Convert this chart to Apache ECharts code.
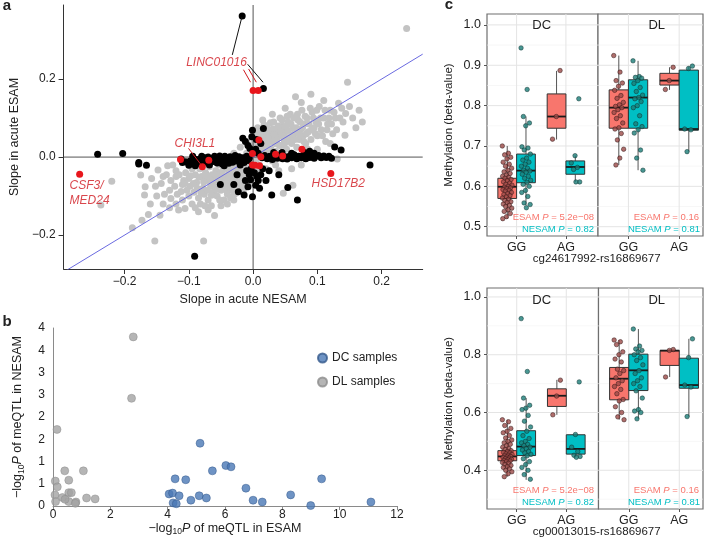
<!DOCTYPE html>
<html><head><meta charset="utf-8">
<script src="https://cdn.jsdelivr.net/npm/echarts@6/dist/echarts.min.js"></script>
<style>html,body{margin:0;padding:0;background:#fff}#c{width:711px;height:544px}</style>
</head><body><div id="c"></div>
<script>
// ---------- Panel a data ----------
const aTicksX = [-0.2, -0.1, 0.0, 0.1, 0.2];
const aTicksY = [-0.2, 0.0, 0.2];
const aGray = [
[-0.220,-0.062],[-0.237,-0.123],[-0.188,-0.181],[-0.163,-0.147],[-0.145,-0.149],[-0.153,-0.215],[-0.077,-0.215],[-0.173,-0.162],[-0.169,-0.097],[-0.175,-0.046],[-0.168,-0.076],[-0.143,-0.068],[-0.133,-0.022],[-0.148,-0.033],[-0.128,-0.106],[-0.116,-0.136],[-0.106,-0.132],[-0.125,-0.020],[-0.120,-0.050],[-0.130,-0.085],[-0.140,-0.050],[-0.110,-0.070],[-0.100,-0.100],[-0.118,-0.095],[-0.095,-0.120],[-0.085,-0.140],[-0.070,-0.135],[-0.060,-0.150],[-0.120,-0.035],
[-0.105,-0.040],[-0.100,-0.055],[-0.098,-0.075],[-0.095,-0.030],[-0.092,-0.090],[-0.090,-0.045],[-0.088,-0.065],[-0.085,-0.105],[-0.083,-0.030],[-0.080,-0.050],[-0.078,-0.080],[-0.076,-0.095],[-0.074,-0.040],[-0.072,-0.060],[-0.070,-0.110],[-0.068,-0.025],[-0.066,-0.075],[-0.064,-0.045],[-0.062,-0.090],[-0.060,-0.055],[-0.058,-0.035],[-0.056,-0.100],[-0.055,-0.070],[-0.053,-0.020],[-0.051,-0.045],[-0.050,-0.085],[-0.048,-0.060],[-0.046,-0.030],[-0.044,-0.075],[-0.042,-0.050],[-0.040,-0.095],[-0.038,-0.040],[-0.036,-0.065],[-0.034,-0.025],[-0.032,-0.085],[-0.030,-0.050],[-0.028,-0.035],[-0.026,-0.070],[-0.024,-0.015],[-0.022,-0.055],[-0.020,-0.040],[-0.018,-0.075],[-0.016,-0.025],[-0.014,-0.045],[-0.012,-0.015],[-0.010,-0.060],[-0.008,-0.030],[-0.006,-0.020],[-0.004,-0.050],[-0.100,-0.015],[-0.090,-0.020],[-0.082,-0.120],[-0.065,-0.125],[-0.045,-0.110],[-0.035,-0.105],[-0.025,-0.090],[-0.015,-0.085],[-0.050,-0.125],[-0.110,-0.110],
[0.000,0.020],[0.002,0.035],[0.004,-0.010],[0.006,0.060],[0.008,0.025],[0.010,0.045],[0.012,0.005],[0.014,0.070],[0.016,0.030],[0.018,0.055],[0.020,0.015],[0.022,0.080],[0.024,0.040],[0.026,0.065],[0.028,0.020],[0.030,0.050],[0.032,0.090],[0.034,0.035],[0.036,0.070],[0.038,0.010],[0.040,0.055],[0.042,0.100],[0.044,0.030],[0.046,0.080],[0.048,0.045],[0.050,0.065],[0.052,0.020],[0.054,0.090],[0.056,0.050],[0.058,0.110],[0.060,0.035],[0.062,0.075],[0.064,0.060],[0.066,0.155],[0.068,0.025],[0.070,0.095],[0.072,0.045],[0.074,0.070],[0.076,0.120],[0.078,0.055],[0.080,0.085],[0.082,0.035],[0.084,0.100],[0.086,0.065],[0.090,0.161],[0.090,0.045],[0.092,0.115],[0.095,0.075],[0.098,0.090],[0.100,0.055],[0.103,0.130],[0.106,0.070],[0.110,0.100],[0.113,0.040],[0.116,0.085],[0.120,0.120],[0.124,0.060],[0.128,0.100],[0.133,0.138],[0.143,0.056],[0.144,0.112],[0.147,0.192],[0.239,0.330],[0.131,-0.005],[0.062,-0.072],[0.047,-0.093],[0.140,0.090],[0.110,0.145],[0.075,0.140],[0.050,0.125],[0.030,0.110],[0.015,0.095],[0.100,0.020],[0.120,0.035],[0.085,0.020],[0.155,0.100],[0.160,0.075],[0.020,-0.030],[0.035,-0.020],[-0.002,0.010],
[-0.010,0.010],[0.000,-0.010],[0.005,-0.040],[-0.005,0.030],[0.010,-0.020],[0.015,0.010],
[-0.108,-0.060],[-0.103,-0.085],[-0.097,-0.048],[-0.093,-0.068],[-0.087,-0.080],[-0.084,-0.052],[-0.081,-0.092],[-0.077,-0.064],[-0.073,-0.048],[-0.071,-0.085],[-0.067,-0.058],[-0.065,-0.098],[-0.061,-0.070],[-0.059,-0.045],[-0.057,-0.083],[-0.054,-0.058],[-0.052,-0.110],[-0.049,-0.038],[-0.047,-0.072],[-0.043,-0.062],[-0.041,-0.085],[-0.039,-0.028],[-0.037,-0.052],[-0.035,-0.078],[-0.033,-0.040],[-0.031,-0.062],[-0.029,-0.095],[-0.027,-0.048],[-0.025,-0.028],[-0.023,-0.065],[-0.021,-0.030],[-0.019,-0.050],[-0.017,-0.012],[-0.015,-0.062],[-0.013,-0.035],[-0.011,-0.072],[-0.009,-0.045],[-0.007,-0.010],[-0.005,-0.065],[-0.003,-0.035],[-0.001,-0.055],
[0.001,0.045],[0.003,0.005],[0.005,0.028],[0.007,0.075],[0.009,0.038],[0.011,0.060],[0.013,0.018],[0.015,0.048],[0.017,0.082],[0.019,0.035],[0.021,0.062],[0.023,0.025],[0.025,0.050],[0.027,0.088],[0.029,0.040],[0.031,0.072],[0.033,0.058],[0.035,0.015],[0.037,0.045],[0.039,0.080],[0.041,0.030],[0.043,0.065],[0.045,0.095],[0.047,0.055],[0.049,0.035],[0.051,0.078],[0.053,0.105],[0.055,0.068],[0.057,0.040],[0.059,0.085],[0.061,0.055],[0.063,0.100],[0.065,0.045],[0.067,0.075],[0.069,0.110],[0.071,0.060],[0.073,0.090],[0.077,0.075],[0.079,0.040],[0.081,0.105],[0.083,0.060],[0.087,0.085],[0.089,0.125],[0.091,0.070],[0.094,0.100],[0.097,0.060],[0.099,0.120],[0.102,0.085],[0.105,0.100],[0.108,0.055],[0.112,0.120],[0.115,0.070],[0.118,0.100],[0.122,0.085],[0.126,0.115],[0.130,0.070],[0.135,0.100],[0.138,0.125],[0.150,0.130],[0.165,0.120],[0.170,0.090],
[0.010,-0.030],[0.030,-0.010],[0.050,0.000],[0.040,-0.035],[0.060,-0.030],[0.075,-0.020],[-0.020,0.025],[-0.010,0.040],[-0.030,0.010],
[-0.150,-0.100],[-0.140,-0.120],[-0.130,-0.130],[-0.160,-0.120],[-0.120,-0.120],[-0.090,-0.130],[-0.075,-0.125],[-0.040,-0.120],[-0.030,-0.110],
[-0.135,-0.045],[-0.128,-0.060],[-0.122,-0.075],[-0.115,-0.045],[-0.112,-0.088],[-0.106,-0.068],[-0.152,-0.075],[-0.158,-0.055],[-0.138,-0.095]
];
const aBlack = [
[-0.112,-0.005],[-0.110,-0.014],[-0.105,-0.012],[-0.098,-0.010],[-0.094,0.002],[-0.092,-0.012],[-0.088,-0.006],[-0.085,-0.016],[-0.082,-0.004],[-0.080,0.002],[-0.078,-0.010],[-0.075,-0.002],[-0.072,-0.014],[-0.070,0.000],[-0.066,-0.006],[-0.064,-0.012],[-0.062,-0.003],[-0.060,0.002],[-0.058,-0.008],[-0.056,-0.015],[-0.054,-0.004],[-0.052,0.003],[-0.050,-0.010],[-0.048,-0.018],[-0.046,-0.005],[-0.044,0.002],[-0.042,-0.012],[-0.040,-0.006],[-0.038,-0.016],[-0.036,0.001],[-0.034,-0.008],[-0.032,-0.013],[-0.030,-0.003],[-0.028,0.004],[-0.026,-0.010],[-0.024,-0.005],[-0.022,0.001],[-0.020,-0.012],[-0.018,-0.006],[-0.016,-0.002],[-0.014,-0.014],[-0.012,-0.006],[-0.010,0.002],[-0.008,-0.009],[-0.006,-0.003],
[-0.100,-0.021],[-0.090,-0.022],[-0.068,-0.020],[-0.045,-0.022],[-0.020,-0.020],
[-0.016,0.048],[-0.012,0.040],[-0.008,0.030],[-0.002,0.052],[-0.001,0.069],[0.016,0.073],[0.005,0.045],[0.012,0.035],[-0.005,0.022],[0.004,0.020],[0.008,0.010],[-0.003,-0.030],[0.002,-0.040],[-0.006,-0.045],[0.006,-0.050],[-0.004,-0.058],[0.008,-0.060],[-0.008,-0.076],[0.004,-0.072],[0.010,-0.080],[-0.001,-0.102],[-0.014,-0.097],[-0.023,-0.089],[-0.012,-0.060],[0.012,-0.045],[0.015,-0.030],[-0.010,-0.035],
[-0.051,-0.070],[0.029,-0.097],[0.054,-0.078],[0.069,-0.110],[0.040,-0.045],[0.025,-0.035],[0.020,-0.060],[-0.030,-0.070],[-0.025,-0.045],
[0.014,-0.002],[0.018,0.004],[0.022,-0.004],[0.026,0.002],[0.030,-0.006],[0.034,0.001],[0.038,-0.003],[0.042,0.005],[0.046,-0.004],[0.050,0.001],[0.053,-0.005],[0.057,0.003],[0.060,-0.002],[0.064,0.006],[0.068,-0.004],[0.071,0.002],[0.075,-0.002],[0.078,0.005],[0.082,-0.004],[0.085,0.003],[0.088,-0.001],[0.092,0.004],[0.095,-0.003],[0.098,0.002],[0.102,0.004],[0.106,-0.002],[0.110,0.003],[0.114,-0.001],[0.118,0.002],[0.122,-0.003],[0.127,0.026],[0.137,0.018],[0.182,-0.020],[0.032,0.012],[0.045,0.012],[0.060,0.010],[0.080,0.012],[0.088,0.015],[0.095,0.010],
[-0.242,0.007],[-0.203,0.009],[-0.178,-0.014],[-0.178,-0.018],[-0.166,-0.021],[-0.091,-0.254],[-0.017,0.362],[0.016,0.176]
];
const aRed = [[-0.270,-0.044],[-0.113,-0.006],[-0.079,-0.025],[-0.069,-0.008],[0.000,0.171],[0.008,0.171],[0.009,0.044],[-0.001,0.009],[-0.001,-0.020],[0.003,-0.021],[0.010,-0.022],[0.012,0.001],[0.035,0.007],[0.046,0.003],[0.076,0.020],[0.121,-0.042]];
const aGeneNames = ['LINC01016','CHI3L1','CSF3/','MED24','HSD17B2'];

// ---------- Panel b data ----------
const bTicksX = [0, 2, 4, 6, 8, 10, 12];
const bDC = [[5.13,1.41],[6.03,0.91],[6.21,0.88],[5.56,0.79],[4.26,0.61],[4.63,0.59],[9.37,0.61],[6.73,0.40],[4.05,0.27],[4.17,0.29],[4.40,0.23],[4.19,0.07],[4.30,0.05],[4.81,0.13],[5.10,0.23],[5.35,0.18],[6.98,0.13],[7.30,0.09],[8.29,0.25],[8.99,0.01],[11.09,0.09]];
const bDL = [[2.80,3.80],[2.74,2.42],[0.14,1.72],[0.41,0.79],[1.06,0.79],[0.55,0.58],[0.08,0.56],[0.15,0.43],[0.07,0.25],[0.55,0.30],[0.64,0.30],[0.33,0.19],[0.09,0.10],[0.55,0.10],[0.80,0.09],[0.78,0.06],[1.17,0.18],[1.47,0.16],[0.42,0.15]];

// ---------- Panel c data ----------
const cCats = ['GG','AG'];
const cTopMajor = [0.5,0.6,0.7,0.8,0.9,1.0];
const cTopMinor = [0.55,0.65,0.75,0.85,0.95];
const cBotMajor = [0.4,0.6,0.8,1.0];
const cBotMinor = [0.3,0.5,0.7,0.9];
// box stats per genotype [GG, AG]: [low, q1, median, q3, high]
const topDC_ESAM_box = [[0.520,0.570,0.599,0.620,0.700],[0.716,0.744,0.773,0.829,0.886]];
const topDC_NESAM_box = [[0.553,0.609,0.639,0.680,0.773],[0.611,0.630,0.648,0.663,0.676]];
const topDL_ESAM_box = [[0.653,0.744,0.795,0.839,0.924],[0.839,0.851,0.862,0.880,0.895]];
const topDL_NESAM_box = [[0.640,0.744,0.820,0.864,0.911],[0.686,0.739,0.742,0.888,0.897]];
const botDC_ESAM_box = [[0.378,0.433,0.448,0.468,0.575],[0.592,0.621,0.658,0.682,0.713]];
const botDC_NESAM_box = [[0.367,0.451,0.482,0.537,0.650],[0.445,0.456,0.474,0.523,0.523]];
const botDL_ESAM_box = [[0.575,0.644,0.717,0.756,0.851],[0.723,0.763,0.814,0.815,0.818]];
const botDL_NESAM_box = [[0.578,0.676,0.746,0.802,0.889],[0.586,0.684,0.695,0.788,0.855]];
// individual samples
const topDC_ESAM_GG = [0.700,0.682,0.678,0.672,0.668,0.660,0.655,0.650,0.645,0.640,0.636,0.632,0.628,0.625,0.622,0.620,0.617,0.614,0.611,0.608,0.605,0.603,0.600,0.598,0.596,0.594,0.592,0.590,0.588,0.585,0.582,0.580,0.577,0.574,0.571,0.568,0.565,0.562,0.560,0.556,0.553,0.550,0.546,0.542,0.538,0.533,0.525,0.520];
const topDC_ESAM_AG = [0.887,0.773,0.717];
const topDC_NESAM_GG = [0.943,0.840,0.773,0.757,0.750,0.698,0.695,0.690,0.680,0.670,0.665,0.660,0.655,0.650,0.645,0.640,0.638,0.635,0.630,0.625,0.620,0.615,0.610,0.605,0.600,0.590,0.585,0.575,0.559,0.555,0.547];
const topDC_NESAM_AG = [0.817,0.676,0.658,0.647,0.642,0.611,0.611];
const topDL_ESAM_GG = [0.924,0.883,0.862,0.856,0.848,0.838,0.825,0.818,0.808,0.802,0.798,0.795,0.790,0.783,0.775,0.768,0.757,0.745,0.742,0.731,0.715,0.692,0.670,0.653];
const topDL_ESAM_AG = [0.895,0.862,0.840];
const topDL_NESAM_GG = [0.911,0.872,0.870,0.868,0.862,0.855,0.845,0.835,0.826,0.820,0.817,0.810,0.800,0.795,0.775,0.755,0.748,0.740,0.732,0.690,0.670,0.640];
const topDL_NESAM_AG = [0.898,0.892,0.742,0.740,0.686];
const botDC_ESAM_GG = [0.575,0.568,0.555,0.545,0.535,0.530,0.520,0.512,0.505,0.500,0.495,0.490,0.485,0.480,0.475,0.472,0.468,0.465,0.462,0.460,0.457,0.455,0.452,0.450,0.448,0.446,0.444,0.442,0.440,0.438,0.436,0.434,0.432,0.430,0.427,0.424,0.420,0.417,0.413,0.410,0.405,0.400,0.395,0.388,0.378];
const botDC_ESAM_AG = [0.712,0.657,0.592];
const botDC_NESAM_GG = [0.925,0.742,0.650,0.625,0.615,0.610,0.590,0.570,0.550,0.535,0.520,0.510,0.500,0.495,0.490,0.485,0.480,0.475,0.470,0.465,0.460,0.455,0.450,0.440,0.430,0.420,0.410,0.400,0.385,0.369];
const botDC_NESAM_AG = [0.706,0.524,0.480,0.465,0.452,0.448,0.445];
const botDL_ESAM_GG = [0.851,0.845,0.835,0.810,0.800,0.785,0.775,0.750,0.745,0.735,0.720,0.710,0.700,0.690,0.680,0.665,0.645,0.640,0.620,0.600,0.585,0.575];
const botDL_ESAM_AG = [0.818,0.815,0.723];
const botDL_NESAM_GG = [0.889,0.830,0.820,0.815,0.810,0.800,0.790,0.780,0.765,0.745,0.735,0.720,0.710,0.700,0.690,0.675,0.650,0.610,0.605,0.600,0.578];
const botDL_NESAM_AG = [0.855,0.790,0.695,0.688,0.586];

// ---------- styling ----------
const FONT = '"Liberation Sans", Arial, Helvetica, sans-serif';
const RED = '#d0181f';
const ESAM_C = '#F8766D', NESAM_C = '#00BFC4';
const DODGE = 0.19, HALF = 0.19;
const fmt1 = v => (Math.abs(v) < 1e-9 ? '0.0' : v.toFixed(1).replace('-', '\u2212'));
const jit = i => (((i * 0.6180339887) % 1) - 0.5) * 0.2;

const series = [];
const grid = [];
const xAxis = [];
const yAxis = [];

// ---------- Panel a ----------
grid.push({left:48, top:5, width:374.7, height:264});
xAxis.push({gridIndex:0, type:'value', min:-0.295, max:0.264,
  axisLine:{show:true, onZero:false, lineStyle:{color:'#333', width:1}},
  axisTick:{show:true, customValues:aTicksX, length:5, lineStyle:{color:'#333'}},
  axisLabel:{customValues:aTicksX, formatter:fmt1, fontSize:12, color:'#222', fontFamily:FONT, margin:7},
  splitLine:{show:false},
  name:'Slope in acute NESAM', nameLocation:'middle', nameGap:24,
  nameTextStyle:{fontSize:12.5, color:'#222', fontFamily:FONT}});
yAxis.push({gridIndex:0, type:'value', min:-0.287, max:0.39,
  axisLine:{show:true, onZero:false, lineStyle:{color:'#333', width:1}},
  axisTick:{show:true, customValues:aTicksY, length:5, lineStyle:{color:'#333'}},
  axisLabel:{customValues:aTicksY, formatter:fmt1, fontSize:12, color:'#222', fontFamily:FONT, margin:8},
  splitLine:{show:false},
  name:'Slope in acute ESAM', nameLocation:'middle', nameGap:31,
  nameTextStyle:{fontSize:12.5, color:'#222', fontFamily:FONT}});

series.push({type:'scatter', xAxisIndex:0, yAxisIndex:0, data:aGray, symbolSize:7, itemStyle:{color:'#c3c3c3', opacity:1}, z:2, silent:true});
const refLines = [
  {d:[[0,-0.287],[0,0.39]], c:'#555', w:1},
  {d:[[-0.295,0],[0.264,0]], c:'#555', w:1},
  {d:[[-0.295,-0.295],[0.264,0.264]], c:'#6a6ae0', w:1}
];
refLines.forEach(r => series.push({type:'line', xAxisIndex:0, yAxisIndex:0, data:r.d, showSymbol:false, clip:true, lineStyle:{color:r.c, width:r.w}, z:3, silent:true}));
series.push({type:'scatter', xAxisIndex:0, yAxisIndex:0, data:aBlack, symbolSize:7, itemStyle:{color:'#000', opacity:1}, z:4, silent:true});
series.push({type:'scatter', xAxisIndex:0, yAxisIndex:0, data:aRed, symbolSize:7, itemStyle:{color:'#e8161c', opacity:1}, z:5, silent:true});
// label connectors
const connectors = [
  {d:[[-0.0175,0.359],[-0.0324,0.262]], c:'#111'},
  {d:[[-0.0085,0.238],[0.0154,0.192]], c:'#111'},
  {d:[[-0.0150,0.224],[-0.0040,0.192]], c:RED},
  {d:[[-0.0070,0.226],[0.0050,0.192]], c:RED},
  {d:[[-0.1006,0.0223],[-0.0806,-0.0205]], c:RED}
];
connectors.forEach(r => series.push({type:'line', xAxisIndex:0, yAxisIndex:0, data:r.d, showSymbol:false, lineStyle:{color:r.c, width:1}, z:6, silent:true}));
const geneLabelPos = [[-0.057,0.242,'center'],[-0.0906,0.0333,'center'],[-0.2857,-0.0726,'left'],[-0.2857,-0.111,'left'],[0.091,-0.068,'left']];
series.push({type:'scatter', xAxisIndex:0, yAxisIndex:0, symbolSize:0, z:7, silent:true,
  data: aGeneNames.map((n,i) => ({name:n, value:[geneLabelPos[i][0], geneLabelPos[i][1]],
    label:{show:true, position:[0,0], align:geneLabelPos[i][2], verticalAlign:'middle', formatter:'{b}',
      color:RED, fontStyle:'italic', fontSize:12, fontFamily:FONT}}))});

// ---------- Panel b ----------
grid.push({left:53, top:328, width:344, height:178});
const bRich = {s:{fontSize:8.5, padding:[7,0,0,0], fontFamily:FONT, color:'#222'}, i:{fontStyle:'italic', fontSize:12.5, fontFamily:FONT, color:'#222'}};
xAxis.push({gridIndex:1, type:'value', min:0, max:12, interval:2,
  axisLine:{show:true, onZero:false, lineStyle:{color:'#8a8a8a'}},
  axisTick:{show:true, length:4, lineStyle:{color:'#8a8a8a'}},
  axisLabel:{fontSize:12, color:'#222', fontFamily:FONT, margin:3},
  splitLine:{show:false},
  name:'\u2212log{s|10}{i|P} of meQTL in ESAM', nameLocation:'middle', nameGap:14,
  nameTextStyle:{fontSize:12.5, color:'#222', fontFamily:FONT, rich:bRich}});
yAxis.push({gridIndex:1, type:'value', min:0, max:4, interval:0.5,
  axisLine:{show:true, onZero:false, lineStyle:{color:'#8a8a8a'}},
  axisTick:{show:false},
  axisLabel:{fontSize:12, color:'#222', fontFamily:FONT, margin:8, formatter:v => String(Math.round(v))},
  splitLine:{show:false},
  name:'\u2212log{s|10}{i|P} of meQTL in NESAM', nameLocation:'middle', nameGap:27,
  nameTextStyle:{fontSize:12.5, color:'#222', fontFamily:FONT, rich:bRich}});
series.push({name:'DL samples', type:'scatter', xAxisIndex:1, yAxisIndex:1, data:bDL, symbolSize:8,
  itemStyle:{color:'#a3a3a3', borderColor:'#8c8c8c', borderWidth:0.6}, z:3});
series.push({name:'DC samples', type:'scatter', xAxisIndex:1, yAxisIndex:1, data:bDC, symbolSize:8,
  itemStyle:{color:'#4a78b5', borderColor:'#34598b', borderWidth:0.6}, z:3});

// ---------- Panel c ----------
const cPanels = [
  {g:{left:487, top:14, width:111, height:222}, xr:[0.4,2.65], yr:[0.477,1.027], maj:cTopMajor, min:cTopMinor, showY:true,
   be:topDC_ESAM_box, bn:topDC_NESAM_box, pe:[topDC_ESAM_GG, topDC_ESAM_AG], pn:[topDC_NESAM_GG, topDC_NESAM_AG]},
  {g:{left:598, top:14, width:105, height:222}, xr:[0.4,2.47], yr:[0.477,1.027], maj:cTopMajor, min:cTopMinor, showY:false,
   be:topDL_ESAM_box, bn:topDL_NESAM_box, pe:[topDL_ESAM_GG, topDL_ESAM_AG], pn:[topDL_NESAM_GG, topDL_NESAM_AG]},
  {g:{left:487, top:288, width:111.5, height:221}, xr:[0.4,2.65], yr:[0.266,1.031], maj:cBotMajor, min:cBotMinor, showY:true,
   be:botDC_ESAM_box, bn:botDC_NESAM_box, pe:[botDC_ESAM_GG, botDC_ESAM_AG], pn:[botDC_NESAM_GG, botDC_NESAM_AG]},
  {g:{left:598.5, top:288, width:104.5, height:221}, xr:[0.4,2.47], yr:[0.266,1.031], maj:cBotMajor, min:cBotMinor, showY:false,
   be:botDL_ESAM_box, bn:botDL_NESAM_box, pe:[botDL_ESAM_GG, botDL_ESAM_AG], pn:[botDL_NESAM_GG, botDL_NESAM_AG]}
];
const catPos = [1, 2];
const gridRender = (params, api) => {
  const cs = params.coordSys;
  const p = api.coord([api.value(0), api.value(1)]);
  const dir = api.value(2), major = api.value(3);
  const st = {stroke: major ? '#e4e4e4' : '#f2f2f2', lineWidth: major ? 1 : 0.6};
  if (dir === 0) return {type:'line', shape:{x1:cs.x, y1:p[1], x2:cs.x+cs.width, y2:p[1]}, style:st, silent:true};
  return {type:'line', shape:{x1:p[0], y1:cs.y, x2:p[0], y2:cs.y+cs.height}, style:st, silent:true};
};
const boxRender = color => (params, api) => {
  const x = api.value(0);
  const pLo = api.coord([x, api.value(1)]), pQ1 = api.coord([x, api.value(2)]), pMd = api.coord([x, api.value(3)]),
        pQ3 = api.coord([x, api.value(4)]), pHi = api.coord([x, api.value(5)]);
  const hw = api.size([HALF, 0])[0];
  const cx = pMd[0];
  return {type:'group', children:[
    {type:'line', shape:{x1:cx, y1:pHi[1], x2:cx, y2:pQ3[1]}, style:{stroke:'#555', lineWidth:1}},
    {type:'line', shape:{x1:cx, y1:pQ1[1], x2:cx, y2:pLo[1]}, style:{stroke:'#555', lineWidth:1}},
    {type:'rect', shape:{x:cx-hw, y:pQ3[1], width:2*hw, height:pQ1[1]-pQ3[1]}, style:{fill:color, stroke:'#333', lineWidth:1}},
    {type:'line', shape:{x1:cx-hw, y1:pMd[1], x2:cx+hw, y2:pMd[1]}, style:{stroke:'#1a1a1a', lineWidth:1.8}}
  ]};
};
cPanels.forEach((P, k) => {
  const gi = 2 + k;
  grid.push(Object.assign({show:true, borderColor:'#6f6f6f', borderWidth:1.2, backgroundColor:'#fff'}, P.g));
  xAxis.push({gridIndex:gi, type:'value', min:P.xr[0], max:P.xr[1],
    axisLine:{show:false}, splitLine:{show:false},
    axisTick:{show:true, customValues:catPos, length:3, lineStyle:{color:'#555'}},
    axisLabel:{customValues:catPos, formatter:v => cCats[Math.round(v)-1], fontSize:12.5, color:'#222', fontFamily:FONT, margin:5}});
  if (P.showY) {
    yAxis.push({gridIndex:gi, type:'value', min:P.yr[0], max:P.yr[1],
      axisLine:{show:false}, splitLine:{show:false},
      axisTick:{show:true, customValues:P.maj, length:3, lineStyle:{color:'#555'}},
      axisLabel:{customValues:P.maj, formatter:v => v.toFixed(1), fontSize:12.5, color:'#222', fontFamily:FONT, margin:6},
      name:'Methylation (beta-value)', nameLocation:'middle', nameGap:32,
      nameTextStyle:{fontSize:11.5, color:'#222', fontFamily:FONT}});
  } else {
    yAxis.push({gridIndex:gi, type:'value', min:P.yr[0], max:P.yr[1], show:false});
  }
  const gl = [];
  P.maj.forEach(v => gl.push([P.xr[0], v, 0, 1]));
  P.min.forEach(v => gl.push([P.xr[0], v, 0, 0]));
  catPos.forEach(v => gl.push([v, P.yr[0], 1, 1]));
  series.push({type:'custom', xAxisIndex:gi, yAxisIndex:gi, renderItem:gridRender, data:gl, z:1, silent:true,
    encode:{x:0, y:1}});
  const boxData = (stats, sign) => stats.map((s, j) => [catPos[j] + sign*DODGE].concat(s));
  series.push({type:'custom', xAxisIndex:gi, yAxisIndex:gi, renderItem:boxRender(ESAM_C), data:boxData(P.be, -1), z:3, silent:true, encode:{x:0, y:[1,2,3,4,5]}});
  series.push({type:'custom', xAxisIndex:gi, yAxisIndex:gi, renderItem:boxRender(NESAM_C), data:boxData(P.bn, 1), z:3, silent:true, encode:{x:0, y:[1,2,3,4,5]}});
  const pts = (arrs, sign) => {
    const out = [];
    arrs.forEach((arr, j) => arr.forEach((v, i) => out.push([catPos[j] + sign*DODGE + jit(i + 3*j), v])));
    return out;
  };
  series.push({type:'scatter', xAxisIndex:gi, yAxisIndex:gi, data:pts(P.pe, -1), symbolSize:4.5, z:4, silent:true,
    itemStyle:{color:'#9b4a47', borderColor:'#2a1111', borderWidth:0.6}});
  series.push({type:'scatter', xAxisIndex:gi, yAxisIndex:gi, data:pts(P.pn, 1), symbolSize:4.5, z:4, silent:true,
    itemStyle:{color:'#1c7d78', borderColor:'#0b2e2d', borderWidth:0.6}});
});

// ---------- graphic texts ----------
const pRich = c => ({n:{fill:c, fontSize:9.5, fontFamily:FONT}, i:{fill:c, fontSize:9.5, fontStyle:'italic', fontFamily:FONT}});
const txt = (x, y, text, opts) => ({type:'text', x, y, silent:true, z:100,
  style:Object.assign({text, fill:'#222', fontFamily:FONT, fontSize:13, align:'center', verticalAlign:'middle'}, opts || {})});
const pTexts = [
  [594, 217.5, 'ESAM {i|P} = 5.2e\u221208', ESAM_C], [594, 229.5, 'NESAM {i|P} = 0.82', NESAM_C],
  [699, 217.5, 'ESAM {i|P} = 0.16', ESAM_C], [700, 229.5, 'NESAM {i|P} = 0.81', NESAM_C],
  [594, 490.7, 'ESAM {i|P} = 5.2e\u221208', ESAM_C], [594, 502.3, 'NESAM {i|P} = 0.82', NESAM_C],
  [699, 490.7, 'ESAM {i|P} = 0.16', ESAM_C], [700, 502.3, 'NESAM {i|P} = 0.81', NESAM_C]
];
const graphic = [
  txt(7, 6, 'a', {fontWeight:'bold', fontSize:15}),
  txt(7, 322, 'b', {fontWeight:'bold', fontSize:15}),
  txt(449, 5, 'c', {fontWeight:'bold', fontSize:15}),
  txt(541.7, 25, 'DC', {fontSize:13}),
  txt(656.7, 25, 'DL', {fontSize:13}),
  txt(541.7, 300.5, 'DC', {fontSize:13}),
  txt(656.7, 300.5, 'DL', {fontSize:13}),
  txt(596.7, 258.5, 'cg24617992-rs16869677', {fontSize:11.5}),
  txt(596.7, 531.5, 'cg00013015-rs16869677', {fontSize:11.5})
];
pTexts.forEach(t => graphic.push(txt(t[0], t[1], '{n|' + t[2].replace(' {i|P} ', ' }{i|P}{n| ') + '}', {align:'right', rich:pRich(t[3]), fill:t[3], fontSize:9.5})));

const chart = echarts.init(document.getElementById('c'), null, {renderer:'canvas'});
chart.setOption({
  animation:false,
  backgroundColor:'#fff',
  textStyle:{fontFamily:FONT},
  grid, xAxis, yAxis, series, graphic,
  legend:{data:['DC samples','DL samples'], orient:'vertical', left:312, top:347, itemGap:12, itemWidth:9, itemHeight:9,
    icon:'circle', selectedMode:false, textStyle:{fontSize:12, color:'#222', fontFamily:FONT}}
});
</script></body></html>
